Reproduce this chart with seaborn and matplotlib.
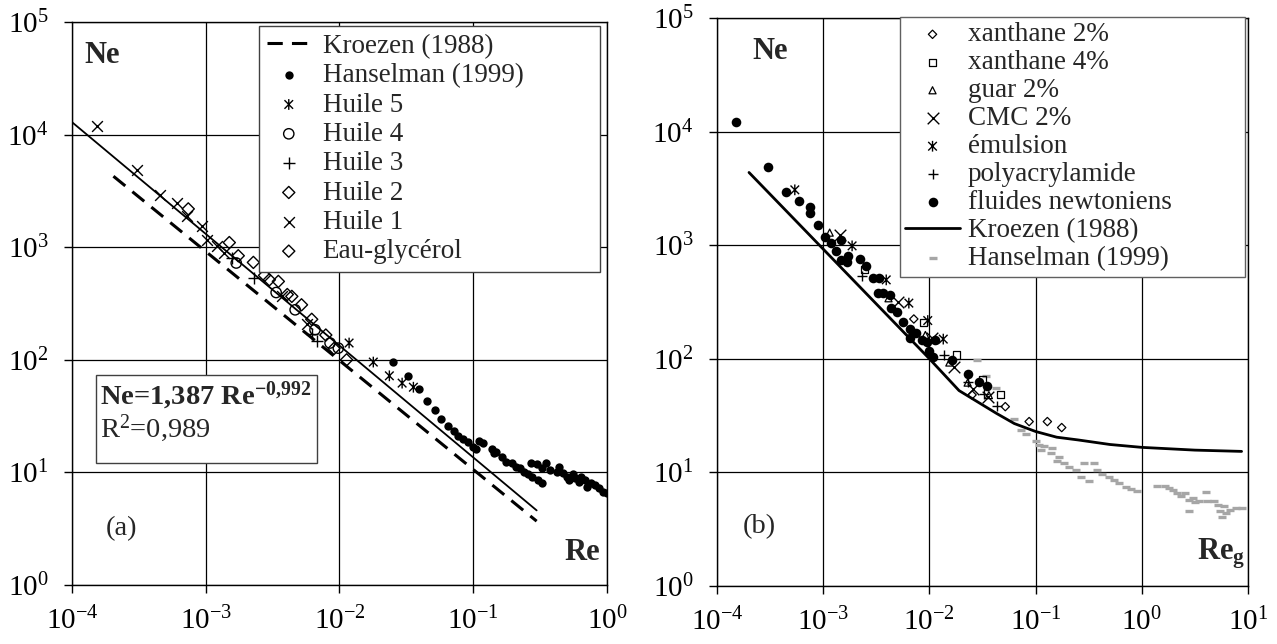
"""
Courbes de puissance Ne = f(Re) : (a) fluides newtoniens, (b) fluides non newtoniens.
"""

import matplotlib
matplotlib.use("Agg")
import matplotlib.pyplot as plt
from matplotlib.path import Path
from matplotlib.patches import Rectangle
from matplotlib.ticker import NullLocator
import seaborn as sns

# =========================================================================
# DONNÉES - panneau (a)
# =========================================================================
re_kroezen_a = [2.04e-4, 0.298]
ne_kroezen_a = [4270, 3.69]

re_fit_a = [1.0e-4, 0.298]
ne_fit_a = [12900, 4.6]

re_hanselman_a = [0.0253, 0.0327, 0.0394, 0.045, 0.0519, 0.0575, 0.0653, 0.0724, 0.0776,
                  0.0845, 0.092, 0.0993, 0.105, 0.111, 0.119, 0.137, 0.147, 0.144, 0.163,
                  0.175, 0.195, 0.208, 0.224, 0.240, 0.257, 0.276, 0.306, 0.324, 0.272,
                  0.302, 0.329, 0.352, 0.378, 0.42, 0.435, 0.467, 0.5, 0.518, 0.556, 0.575,
                  0.617, 0.638, 0.686, 0.71, 0.76, 0.817, 0.875, 0.94, 1.0]
ne_hanselman_a = [95.9, 72.1, 55.2, 42.7, 36.0, 29.7, 25.9, 23.1, 21.1,
                  19.7, 18.8, 16.9, 16.1, 19.1, 18.2, 16.3, 15.3, 14.8, 13.8,
                  12.4, 12.0, 11.2, 10.9, 10.1, 9.66, 9.14, 8.55, 7.98, 12.2,
                  11.9, 10.9, 12.0, 10.5, 10.1, 11.1, 9.8, 9.14, 8.55, 9.66, 8.85,
                  8.26, 9.14, 8.55, 7.46, 7.98, 7.71, 7.21, 6.73, 6.5]

re_huile5 = [0.0118, 0.0179, 0.0236, 0.0294, 0.0357]
ne_huile5 = [141, 95.5, 72.1, 62.1, 57.1]

re_huile4 = [1.69e-3, 3.36e-3, 4.66e-3, 6.56e-3, 8.5e-3, 9.8e-3]
ne_huile4 = [724, 396, 278, 185, 141, 127]

re_huile3 = [1.58e-3, 2.3e-3, 6.76e-3, 6.2e-3]
ne_huile3 = [795, 532, 146, 168]

re_huile2 = [7.4e-4, 1.5e-3, 1.75e-3, 2.27e-3, 2.99e-3, 3.49e-3]
ne_huile2 = [2190, 1100, 840, 733, 514, 497]

re_huile1 = [1.53e-4, 3.05e-4, 4.55e-4, 6.07e-4, 7.2e-4, 9.3e-4, 1.02e-3, 1.21e-3,
             1.36e-3, 3.7e-3, 5.7e-3]
ne_huile1 = [12000, 4890, 2930, 2470, 1880, 1530, 1170, 1015, 890, 366, 209]

re_eau_glycerol = [2.75e-3, 4.07e-3, 4.4e-3, 5.2e-3, 6.2e-3, 7.9e-3, 9.1e-3, 0.0113]
ne_eau_glycerol = [562, 380, 366, 308, 229, 166, 126, 100]

# =========================================================================
# DONNÉES - panneau (b)
# =========================================================================
re_xanthane2 = [7.13e-3, 0.0252, 0.0518, 0.0869, 0.129, 0.176]
ne_xanthane2 = [224, 48.1, 37.9, 28.0, 28.0, 24.8]

re_xanthane4 = [2.45e-3, 8.79e-3, 0.018, 0.0316, 0.0465]
ne_xanthane4 = [615, 208, 108, 66, 48.1]

re_guar2 = [1.15e-3, 4.12e-3, 9.16e-3, 0.0154, 0.0229, 0.0363]
ne_guar2 = [1290, 341, 162, 92.7, 61.7, 47.9]

re_cmc2 = [1.45e-3, 5.04e-3, 0.0105, 0.0172, 0.0255, 0.0355]
ne_cmc2 = [1230, 313, 151, 84.3, 54, 45.9]

re_emulsion = [5.4e-4, 1.87e-3, 3.92e-3, 6.4e-3, 9.64e-3, 0.0135]
ne_emulsion = [3070, 986, 495, 309, 217, 149]

re_polyacryl = [2.33e-3, 0.0138, 0.0229, 0.0324, 0.0429]
ne_polyacryl = [530, 108, 63, 49, 38.5]

re_newtoniens = [1.51e-4, 2.99e-4, 4.45e-4, 5.93e-4, 7.46e-4, 7.46e-4, 8.93e-4, 1.05e-3,
                 1.19e-3, 1.48e-3, 1.33e-3, 1.71e-3, 1.48e-3, 1.66e-3, 2.23e-3, 2.51e-3,
                 2.94e-3, 3.34e-3, 3.27e-3, 3.65e-3, 4.21e-3, 4.37e-3, 4.93e-3, 5.62e-3,
                 6.59e-3, 7.5e-3, 6.59e-3, 8.5e-3, 0.01, 0.0109, 9.55e-3, 0.0112, 0.0162,
                 0.0229, 0.029, 0.0348]
ne_newtoniens = [12100, 4860, 2965, 2470, 2160, 1915, 1510, 1175,
                 1040, 1115, 895, 809, 743, 708, 753, 658,
                 513, 513, 378, 378, 365, 279, 260, 212,
                 182, 168, 152, 145, 116, 104, 141, 145, 98,
                 73, 63, 58]

re_kroezen_b = [2.0e-4, 0.01, 0.019, 0.0427, 0.063, 0.1, 0.158, 0.251, 0.5, 1.0, 3.16, 8.7]
ne_kroezen_b = [4365, 100, 52.5, 33.1, 26.9, 22.9, 20.4, 19.3, 17.6, 16.6, 15.7, 15.3]

re_hanselman_b = [0.0282, 0.0342, 0.0427, 0.0622, 0.0726, 0.0809, 0.1005, 0.108, 0.120,
                  0.144, 0.139, 0.166, 0.185, 0.207, 0.238, 0.285, 0.354, 0.265, 0.318,
                  0.380, 0.424, 0.490, 0.546, 0.608, 0.703, 0.783, 0.904, 1.38, 1.65,
                  1.80, 1.97, 2.15, 2.35, 2.57, 2.80, 2.80, 3.05, 3.19, 3.48, 3.98, 4.15,
                  4.74, 5.18, 5.41, 5.75, 5.9, 6.17, 6.73, 7.67, 8.77, 0.112, 0.158]
ne_hanselman_b = [96.6, 70, 55.2, 29.4, 23.7, 21.8, 18.7, 17.5, 16.9,
                  16.3, 14.8, 13.6, 12.1, 11.1, 10.4, 12.1, 12.2, 9.18, 8.41,
                  10.5, 9.7, 9.18, 8.59, 8.04, 7.5, 7.11, 6.92, 7.64, 7.53,
                  7.28, 7.05, 6.58, 6.15, 6.58, 5.75, 4.6, 5.94, 5.45, 5.56, 6.67, 5.56,
                  5.56, 5.2, 4.54, 4.05, 5.02, 4.4, 4.7, 4.85, 4.85, 15.8, 12.6]

decades_x_a = [1e-4, 1e-3, 1e-2, 1e-1, 1e0]
decades_x_b = [1e-4, 1e-3, 1e-2, 1e-1, 1e0, 1e1]
decades_y = [1e0, 1e1, 1e2, 1e3, 1e4, 1e5]

# =========================================================================
# STYLE
# =========================================================================
sns.set_theme(style="ticks")
plt.rcParams["font.family"] = ["Liberation Serif", "DejaVu Serif"]
plt.rcParams["mathtext.fontset"] = "custom"
plt.rcParams["mathtext.rm"] = "Liberation Serif"
plt.rcParams["mathtext.default"] = "regular"

# marqueur "étoile" façon Excel : croix + barre verticale
etoile = Path([(-1, -1), (1, 1), (-1, 1), (1, -1), (0, -1.25), (0, 1.25)],
              [Path.MOVETO, Path.LINETO, Path.MOVETO, Path.LINETO, Path.MOVETO, Path.LINETO])


def nuage(ax, x, y, label, marker, s, mode="creux", color="black", lw=1.0, z=3):
    """Trace une série de points avec seaborn."""
    if mode == "plein":
        sns.scatterplot(x=x, y=y, ax=ax, marker=marker, s=s, color=color,
                        edgecolor=color, linewidth=0, label=label, zorder=z, legend=False)
    elif mode == "trait":
        sns.scatterplot(x=x, y=y, ax=ax, marker=marker, s=s, color=color,
                        edgecolor=None, linewidth=lw, label=label, zorder=z, legend=False)
    else:
        sns.scatterplot(x=x, y=y, ax=ax, marker=marker, s=s, color=color,
                        facecolor="none", edgecolor=color, linewidth=lw, label=label,
                        zorder=z, legend=False)


def habillage(ax, xticks):
    ax.set_xscale("log")
    ax.set_yscale("log")
    ax.set_xlim(xticks[0], xticks[-1])
    ax.set_ylim(decades_y[0], decades_y[-1])
    ax.set_xticks(xticks)
    ax.set_yticks(decades_y)
    ax.xaxis.set_minor_locator(NullLocator())
    ax.yaxis.set_minor_locator(NullLocator())
    ax.grid(True, which="major", color="black", linewidth=0.9)
    ax.set_axisbelow(True)
    ax.tick_params(axis="both", which="major", direction="out", length=6, width=1,
                   color="black", labelsize=21, labelcolor="black")
    ax.tick_params(axis="x", pad=10)
    ax.tick_params(axis="y", pad=11)
    for sp in ax.spines.values():
        sp.set_visible(True)
        sp.set_color("black")
        sp.set_linewidth(1)
    ax.set_xlabel("")
    ax.set_ylabel("")


fig = plt.figure(figsize=(12.77, 6.44), dpi=100)
ax_a = fig.add_axes([0.0564, 0.0916, 0.4189, 0.8742])
ax_b = fig.add_axes([0.5615, 0.0901, 0.4158, 0.882])

# =========================================================================
# PANNEAU (a)
# =========================================================================
habillage(ax_a, decades_x_a)
sns.lineplot(x=re_kroezen_a, y=ne_kroezen_a, ax=ax_a, color="black", linewidth=2.2,
             linestyle=(0, (5, 3)), label="Kroezen (1988)", legend=False, zorder=2)
sns.lineplot(x=re_fit_a, y=ne_fit_a, ax=ax_a, color="black", linewidth=1.3,
             legend=False, zorder=2)
nuage(ax_a, re_hanselman_a, ne_hanselman_a, "Hanselman (1999)", "o", 36, mode="plein")
nuage(ax_a, re_huile5, ne_huile5, "Huile 5", etoile, 60, lw=1.0)
nuage(ax_a, re_huile4, ne_huile4, "Huile 4", "o", 55, lw=1.0)
nuage(ax_a, re_huile3, ne_huile3, "Huile 3", "+", 70, mode="trait", lw=1.0)
nuage(ax_a, re_huile2, ne_huile2, "Huile 2", "D", 38, lw=1.0)
nuage(ax_a, re_huile1, ne_huile1, "Huile 1", "x", 60, mode="trait", lw=1.0)
nuage(ax_a, re_eau_glycerol, ne_eau_glycerol, "Eau-glycérol", "D", 38, lw=1.0)
habillage(ax_a, decades_x_a)

h, l = ax_a.get_legend_handles_labels()
leg_a = ax_a.legend(h, l, loc="upper left", bbox_to_anchor=(0.2028, 0.5, 0.267, 0.46),
                    bbox_transform=fig.transFigure, mode="expand", borderaxespad=0,
                    fontsize=19.5, frameon=True, fancybox=False, framealpha=1,
                    edgecolor="#404040", labelspacing=0.16, handlelength=1.6,
                    handletextpad=0.45, borderpad=0.3)
leg_a.get_frame().set_linewidth(1.0)
leg_a.set_zorder(10)

ax_a.text(0.024, 0.941, "Ne", transform=ax_a.transAxes, fontsize=22,
          fontweight="bold", ha="left", va="center")
ax_a.text(0.987, 0.057, "Re", transform=ax_a.transAxes, fontsize=22,
          fontweight="bold", ha="right", va="center")
ax_a.text(0.093, 0.101, "(a)", transform=ax_a.transAxes, fontsize=20.5,
          ha="center", va="center")
ax_a.add_patch(Rectangle((0.045, 0.217), 0.413, 0.156, transform=ax_a.transAxes,
                         facecolor="white", edgecolor="#404040", linewidth=1, zorder=8))
ax_a.text(0.052, 0.335, "Ne=1,387 Re$^{-0{,}992}$", transform=ax_a.transAxes,
          fontsize=20.5, fontweight="bold", ha="left", va="center", zorder=9)
ax_a.text(0.052, 0.278, "R$^{2}$=0,989", transform=ax_a.transAxes,
          fontsize=20.5, ha="left", va="center", zorder=9)

# =========================================================================
# PANNEAU (b)
# =========================================================================
habillage(ax_b, decades_x_b)
nuage(ax_b, re_xanthane2, ne_xanthane2, "xanthane 2%", "D", 18, lw=0.9)
nuage(ax_b, re_xanthane4, ne_xanthane4, "xanthane 4%", "s", 26, lw=0.9)
nuage(ax_b, re_guar2, ne_guar2, "guar 2%", "^", 26, lw=0.9)
nuage(ax_b, re_cmc2, ne_cmc2, "CMC 2%", "x", 70, mode="trait", lw=1.0)
nuage(ax_b, re_emulsion, ne_emulsion, "émulsion", etoile, 60, lw=1.0)
nuage(ax_b, re_polyacryl, ne_polyacryl, "polyacrylamide", "+", 45, mode="trait", lw=1.0)
nuage(ax_b, re_newtoniens, ne_newtoniens, "fluides newtoniens", "o", 48, mode="plein")
sns.lineplot(x=re_kroezen_b, y=ne_kroezen_b, ax=ax_b, color="black", linewidth=2.0,
             label="Kroezen (1988)", legend=False, zorder=2)
nuage(ax_b, re_hanselman_b, ne_hanselman_b, "Hanselman (1999)", "_", 28, mode="trait",
      color="#a6a6a6", lw=2.4, z=1)
habillage(ax_b, decades_x_b)

h, l = ax_b.get_legend_handles_labels()
leg_b = ax_b.legend(h, l, loc="upper left", bbox_to_anchor=(0.7048, 0.5, 0.270, 0.4736),
                    bbox_transform=fig.transFigure, mode="expand", borderaxespad=0,
                    fontsize=19.5, frameon=True, fancybox=False, framealpha=1,
                    edgecolor="#606060", labelspacing=0.11, handlelength=2.0,
                    handletextpad=0.3, borderpad=0.2)
leg_b.get_frame().set_linewidth(1.0)
leg_b.set_zorder(10)

ax_b.text(0.066, 0.941, "Ne", transform=ax_b.transAxes, fontsize=22,
          fontweight="bold", ha="left", va="center")
ax_b.text(0.995, 0.057, "Re$_{g}$", transform=ax_b.transAxes, fontsize=22,
          fontweight="bold", ha="right", va="center")
ax_b.text(0.079, 0.104, "(b)", transform=ax_b.transAxes, fontsize=20.5,
          ha="center", va="center")

fig.savefig("out.png", dpi=100, facecolor="white")
